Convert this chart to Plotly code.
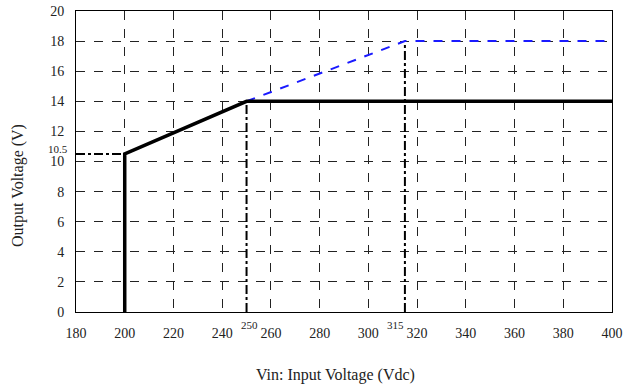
import plotly.graph_objects as go

# Data
main_x = [200, 200, 250, 400]
main_y = [0, 10.5, 14, 14]
alt_x = [250, 315, 400]
alt_y = [14, 18, 18]
ref_h_x = [180, 200]
ref_h_y = [10.5, 10.5]
ref_v1_x = [250, 250]
ref_v1_y = [0, 14]
ref_v2_x = [315, 315]
ref_v2_y = [0, 18]
x_ticks = [180, 200, 220, 240, 260, 280, 300, 320, 340, 360, 380, 400]
y_ticks = [0, 2, 4, 6, 8, 10, 12, 14, 16, 18, 20]

FONT = "Liberation Serif, Times New Roman, serif"
W, H = 631, 387
L, R, T, B = 76, 631 - 612, 11, 387 - 312
PW = 612 - 76
PH = 312 - 11

fig = go.Figure()
dd = dict(color="black", width=2, dash="dashdot")
fig.add_trace(go.Scatter(x=ref_h_x, y=ref_h_y, mode="lines", line=dd, showlegend=False))
fig.add_trace(go.Scatter(x=ref_v1_x, y=ref_v1_y, mode="lines", line=dd, showlegend=False))
fig.add_trace(go.Scatter(x=ref_v2_x, y=ref_v2_y, mode="lines", line=dd, showlegend=False))
fig.add_trace(go.Scatter(x=alt_x, y=alt_y, mode="lines",
                         line=dict(color="#1a1aff", width=2, dash="dash"), showlegend=False))
fig.add_trace(go.Scatter(x=main_x, y=main_y, mode="lines",
                         line=dict(color="black", width=3.5), showlegend=False))

grid = dict(showgrid=True, gridcolor="#222222", gridwidth=1, griddash="dash",
            showline=True, linecolor="black", linewidth=1, mirror=True,
            zeroline=False, ticks="", ticklabeloverflow="allow",
            tickfont=dict(family=FONT, size=14, color="#222"))
fig.update_xaxes(range=[180, 400], tickvals=x_ticks, ticklabelstandoff=8, automargin=False, **grid)
fig.update_yaxes(range=[0, 20], tickvals=y_ticks, ticklabelstandoff=8, automargin=False, **grid)

small = dict(family=FONT, size=11, color="#222")
fig.add_annotation(x=180, y=10.5, text="10.5", showarrow=False, xanchor="right",
                   yanchor="bottom", xshift=-6, yshift=-3, font=small)
fig.add_annotation(x=250, y=0, text="250", showarrow=False, xanchor="center",
                   yanchor="top", xshift=3, yshift=-5, font=small)
fig.add_annotation(x=315, y=0, text="315", showarrow=False, xanchor="center",
                   yanchor="top", xshift=-9, yshift=-5, font=small)
fig.add_annotation(xref="paper", yref="paper", x=(335 - 76) / PW, y=(312 - 375) / PH,
                   xanchor="center", yanchor="middle", text="Vin: Input Voltage (Vdc)",
                   showarrow=False, font=dict(family=FONT, size=16, color="#222"))
fig.add_annotation(xref="paper", yref="paper", x=(18 - 76) / PW, y=(312 - 186) / PH,
                   xanchor="center", yanchor="middle", text="Output Voltage (V)",
                   showarrow=False, textangle=-90, font=dict(family=FONT, size=16, color="#222"))

fig.update_layout(width=W, height=H, margin=dict(l=L, r=R, t=T, b=B),
                  plot_bgcolor="white", paper_bgcolor="white", hovermode=False)
fig.write_html("out.html", config={"displayModeBar": False},
               post_script="document.body.style.margin='0';document.body.style.overflow='hidden';")
